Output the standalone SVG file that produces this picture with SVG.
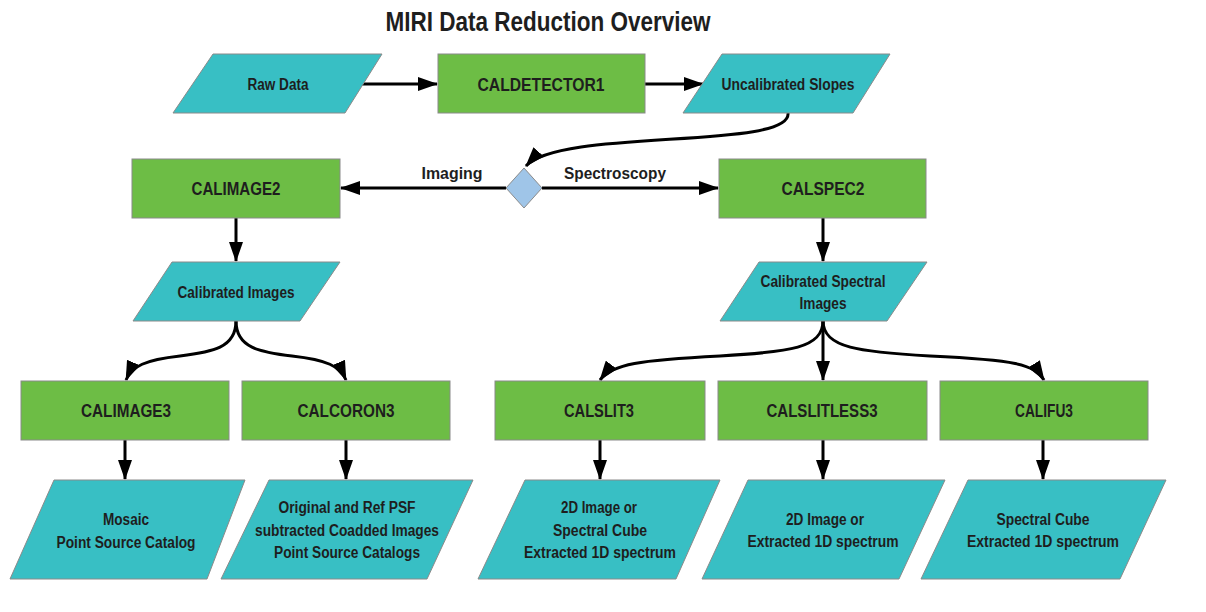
<svg xmlns="http://www.w3.org/2000/svg" width="1206" height="612" viewBox="0 0 1206 612">
<defs>
<style>
.proc{fill:#6dbd45;stroke:#8a8a8a;stroke-width:1}
.data{fill:#38bfc4;stroke:#8a8a8a;stroke-width:1}
.dec{fill:#9fc5e8;stroke:#8a8a8a;stroke-width:1}
.t{font-family:"Liberation Sans",Arial,sans-serif;font-weight:bold;fill:#1e1e1e;text-anchor:middle}
.pt{font-size:19px}
.dt{font-size:16px}
.lbl{font-size:17px}
.title{font-size:27px}
.c{fill:none;stroke:#000;stroke-width:3}
</style>
<marker id="ah" viewBox="0 0 20 14" refX="19" refY="7" markerWidth="20" markerHeight="14" markerUnits="userSpaceOnUse" orient="auto">
<path d="M0,0 L20,7 L0,14 z" fill="#000"/>
</marker>
</defs>
<rect width="1206" height="612" fill="#fff"/>
<text class="t title" x="548" y="31" textLength="325" lengthAdjust="spacingAndGlyphs">MIRI Data Reduction Overview</text>

<g id="connectors">
<path class="c" d="M361,84 L437,84" marker-end="url(#ah)"/>
<path class="c" d="M645,84 L703,84" marker-end="url(#ah)"/>
<path class="c" d="M788,113 C792,150 560,128 526,166" marker-end="url(#ah)"/>
<path class="c" d="M506,188 L341,188" marker-end="url(#ah)"/>
<path class="c" d="M542,188 L718,188" marker-end="url(#ah)"/>
<path class="c" d="M236,218 L236,261" marker-end="url(#ah)"/>
<path class="c" d="M823,218 L823,261" marker-end="url(#ah)"/>
<path class="c" d="M236,321 C236,348 212,352 180,356 C145,360 132,366 126,380" marker-end="url(#ah)"/>
<path class="c" d="M236,321 C236,348 260,352 292,356 C327,360 340,366 346,380" marker-end="url(#ah)"/>
<path class="c" d="M823,321 C823,348 790,352 720,356 C640,360 612,364 600,380" marker-end="url(#ah)"/>
<path class="c" d="M823,321 L823,380" marker-end="url(#ah)"/>
<path class="c" d="M823,321 C823,348 860,352 930,356 C1015,360 1034,364 1044,380" marker-end="url(#ah)"/>
<path class="c" d="M125,440 L125,479" marker-end="url(#ah)"/>
<path class="c" d="M346,440 L346,479" marker-end="url(#ah)"/>
<path class="c" d="M600,440 L600,479" marker-end="url(#ah)"/>
<path class="c" d="M823,440 L823,479" marker-end="url(#ah)"/>
<path class="c" d="M1043,440 L1043,479" marker-end="url(#ah)"/>
</g>
<text class="t lbl" x="452" y="179" textLength="61" lengthAdjust="spacingAndGlyphs">Imaging</text>
<text class="t lbl" x="615" y="179" textLength="102" lengthAdjust="spacingAndGlyphs">Spectroscopy</text>

<g id="raw"><polygon class="data" points="213,54 382,54 345,113 173,113"/><text class="t dt" x="278" y="90" textLength="61" lengthAdjust="spacingAndGlyphs">Raw Data</text></g>
<g id="caldetector1"><rect class="proc" x="438" y="54" width="207" height="59"/><text class="t pt" x="541" y="91" textLength="127" lengthAdjust="spacingAndGlyphs">CALDETECTOR1</text></g>
<g id="uncal"><polygon class="data" points="722,54 890,54 853,113 683,113"/><text class="t dt" x="788" y="90" textLength="133" lengthAdjust="spacingAndGlyphs">Uncalibrated Slopes</text></g>
<g id="decision"><polygon class="dec" points="524,168 542,188 524,208 506,188"/></g>
<g id="calimage2"><rect class="proc" x="132" y="159" width="208" height="59"/><text class="t pt" x="236" y="195" textLength="89" lengthAdjust="spacingAndGlyphs">CALIMAGE2</text></g>
<g id="calspec2"><rect class="proc" x="719" y="159" width="207" height="59"/><text class="t pt" x="823" y="195" textLength="83" lengthAdjust="spacingAndGlyphs">CALSPEC2</text></g>
<g id="calimages"><polygon class="data" points="172,262 340,262 300,321 133,321"/><text class="t dt" x="236" y="298" textLength="117" lengthAdjust="spacingAndGlyphs">Calibrated Images</text></g>
<g id="calspecimages"><polygon class="data" points="759,262 927,262 887,321 720,321"/><text class="t dt" x="823" y="287" textLength="125" lengthAdjust="spacingAndGlyphs">Calibrated Spectral</text><text class="t dt" x="823" y="309" textLength="47" lengthAdjust="spacingAndGlyphs">Images</text></g>
<g id="calimage3"><rect class="proc" x="21" y="381" width="208" height="59"/><text class="t pt" x="126" y="417" textLength="90" lengthAdjust="spacingAndGlyphs">CALIMAGE3</text></g>
<g id="calcoron3"><rect class="proc" x="242" y="381" width="208" height="59"/><text class="t pt" x="346" y="417" textLength="97" lengthAdjust="spacingAndGlyphs">CALCORON3</text></g>
<g id="calslit3"><rect class="proc" x="495" y="381" width="210" height="59"/><text class="t pt" x="599" y="417" textLength="70" lengthAdjust="spacingAndGlyphs">CALSLIT3</text></g>
<g id="calslitless3"><rect class="proc" x="718" y="381" width="209" height="59"/><text class="t pt" x="822" y="417" textLength="111" lengthAdjust="spacingAndGlyphs">CALSLITLESS3</text></g>
<g id="califu3"><rect class="proc" x="940" y="381" width="208" height="59"/><text class="t pt" x="1044" y="417" textLength="58" lengthAdjust="spacingAndGlyphs">CALIFU3</text></g>
<g id="out1"><polygon class="data" points="54,480 245,480 207,579 10,579"/><text class="t dt" x="126" y="525" textLength="46" lengthAdjust="spacingAndGlyphs">Mosaic</text><text class="t dt" x="126" y="548" textLength="139" lengthAdjust="spacingAndGlyphs">Point Source Catalog</text></g>
<g id="out2"><polygon class="data" points="269,480 473,480 427,579 221,579"/><text class="t dt" x="347" y="513" textLength="137" lengthAdjust="spacingAndGlyphs">Original and Ref PSF</text><text class="t dt" x="347" y="536" textLength="184" lengthAdjust="spacingAndGlyphs">subtracted Coadded Images</text><text class="t dt" x="347" y="558" textLength="146" lengthAdjust="spacingAndGlyphs">Point Source Catalogs</text></g>
<g id="out3"><polygon class="data" points="525,480 720,480 676,579 478,579"/><text class="t dt" x="599" y="513" textLength="76" lengthAdjust="spacingAndGlyphs">2D Image or</text><text class="t dt" x="600" y="536" textLength="94" lengthAdjust="spacingAndGlyphs">Spectral Cube</text><text class="t dt" x="600" y="558" textLength="152" lengthAdjust="spacingAndGlyphs">Extracted 1D spectrum</text></g>
<g id="out4"><polygon class="data" points="748,480 945,480 899,579 702,579"/><text class="t dt" x="825" y="525" textLength="78" lengthAdjust="spacingAndGlyphs">2D Image or</text><text class="t dt" x="823" y="547" textLength="151" lengthAdjust="spacingAndGlyphs">Extracted 1D spectrum</text></g>
<g id="out5"><polygon class="data" points="968,480 1166,480 1120,579 921,579"/><text class="t dt" x="1043" y="525" textLength="93" lengthAdjust="spacingAndGlyphs">Spectral Cube</text><text class="t dt" x="1043" y="547" textLength="152" lengthAdjust="spacingAndGlyphs">Extracted 1D spectrum</text></g>
</svg>
